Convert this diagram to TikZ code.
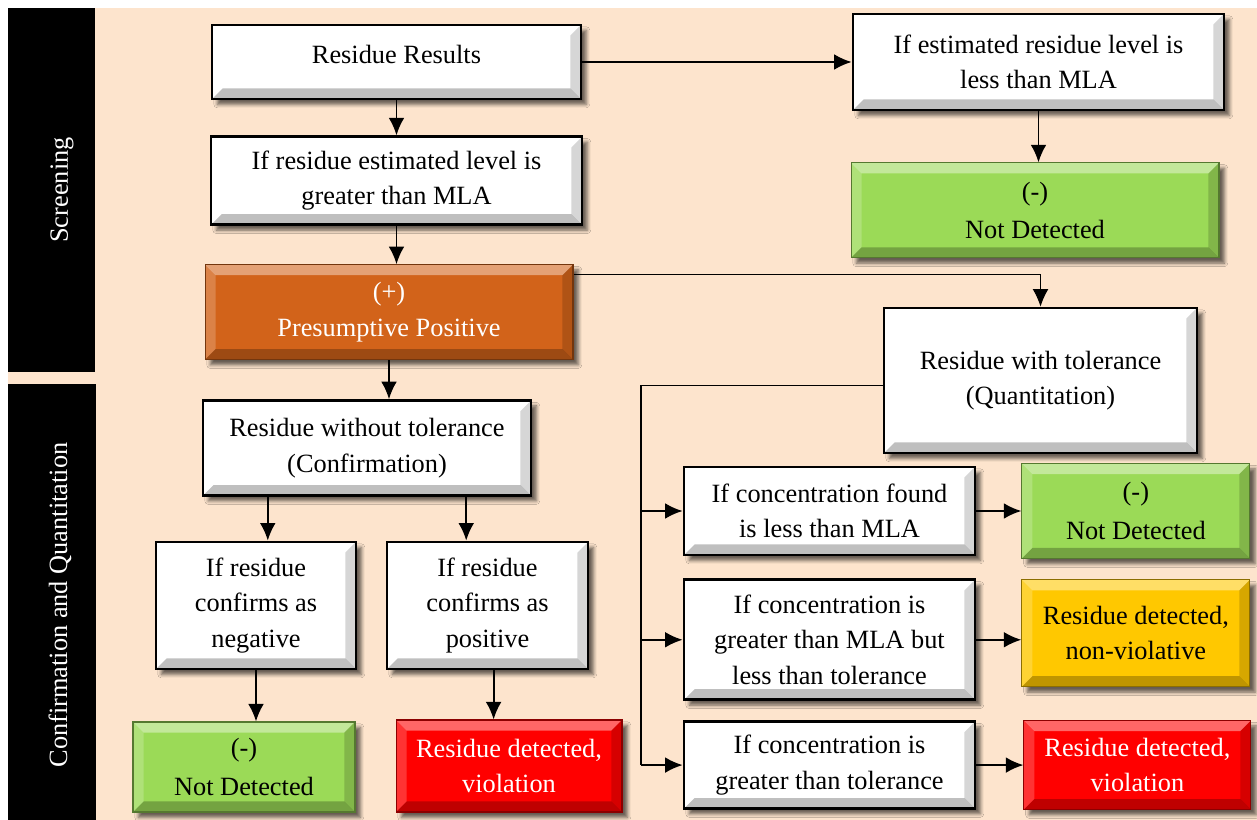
\documentclass[tikz,border=0pt]{standalone}
\usepackage{fontspec}
\setmainfont{Liberation Serif}
\usetikzlibrary{positioning, arrows.meta, shadows.blur, calc}

\definecolor{peach}{HTML}{FDE4CD}
\definecolor{leafgreen}{HTML}{9BDA57}
\definecolor{burnt}{HTML}{D2631A}
\definecolor{amber}{HTML}{FFC800}
\definecolor{alarm}{HTML}{FF0000}

\tikzset{
    bevel/.style={path picture={
        \path (path picture bounding box.north west) coordinate (bnw)
              (path picture bounding box.north east) coordinate (bne)
              (path picture bounding box.south east) coordinate (bse)
              (path picture bounding box.south west) coordinate (bsw);
        \fill[white, opacity=0.4] (bnw) -- (bne) -- ([shift={(-6pt,-6pt)}]bne) -- ([shift={(6pt,-6pt)}]bnw) -- cycle;
        \fill[white, opacity=0.2] (bnw) -- ([shift={(6pt,-6pt)}]bnw) -- ([shift={(6pt,6pt)}]bsw) -- (bsw) -- cycle;
        \fill[black, opacity=0.25] (bsw) -- ([shift={(6pt,6pt)}]bsw) -- ([shift={(-6pt,6pt)}]bse) -- (bse) -- cycle;
        \fill[black, opacity=0.16] (bse) -- ([shift={(-6pt,6pt)}]bse) -- ([shift={(-6pt,-6pt)}]bne) -- (bne) -- cycle;
    }}
}

\begin{document}
\begin{tikzpicture}[
    x=0.02cm, y=-0.02cm,
    plainbox/.style={rectangle, draw=black, line width=1.6pt, fill=white, align=center, inner sep=2pt,
        font=\fontsize{15}{20}\selectfont, bevel,
        blur shadow={shadow xshift=3pt, shadow yshift=-3pt, shadow blur radius=2pt, shadow opacity=60}},
    colorbox/.style={plainbox, line width=0.6pt},
    greenbox/.style={colorbox, fill=leafgreen, draw=leafgreen!55!black, font=\fontsize{15}{22}\selectfont},
    amberbox/.style={colorbox, fill=amber, draw=amber!55!black},
    redbox/.style={colorbox, fill=alarm, draw=alarm!55!black, text=white},
    burntbox/.style={colorbox, fill=burnt, draw=burnt!55!black, text=white},
    sidelabel/.style={rotate=90, text=white, font=\fontsize{15}{20}\selectfont},
    arrow/.style={-{Latex[length=10pt, width=9pt]}, line width=1.1pt},
    feed/.style={line width=0.6pt}
]

% Background and side bars
\useasboundingbox (0,0) rectangle (1257,820);
\fill[peach] (8,8) rectangle (1257,820);
\fill[black] (8,8) rectangle (95,372);
\fill[black] (8,384) rectangle (96,820);
\node[sidelabel] (screening) at (62,190) {Screening};
\node[sidelabel] (confquant) at (60,605) {Confirmation and Quantitation};

% Screening
\node[plainbox, minimum width=7.38cm, minimum height=1.48cm, text depth=9pt] (results) at (396.5,62) {Residue Results};
\node[plainbox, minimum width=7.42cm, minimum height=1.76cm, below=0.7cm of results] (greater) {If residue estimated level is\\greater than MLA};
\node[burntbox, minimum width=7.36cm, minimum height=1.9cm, below=0.76cm of greater, xshift=-0.15cm] (presumptive) {(+)\\Presumptive Positive};
\node[plainbox, minimum width=7.42cm, minimum height=1.92cm] (lessmla) at (1038.5,62) {If estimated residue level is\\less than MLA};
\node[greenbox, minimum width=7.36cm, minimum height=1.9cm, below=1.02cm of lessmla, xshift=-0.07cm] (nd1) {(-)\\Not Detected};

% Confirmation
\node[plainbox, minimum width=6.56cm, minimum height=1.9cm, below=0.78cm of presumptive, xshift=-0.44cm] (without) {Residue without tolerance\\(Confirmation)};
\node[plainbox, minimum width=4cm, minimum height=2.54cm] (negative) at (256,605.5) {If residue\\confirms as\\negative};
\node[plainbox, minimum width=4.02cm, minimum height=2.54cm] (positive) at (487.5,605.5) {If residue\\confirms as\\positive};
\node[greenbox, minimum width=4.44cm, minimum height=1.8cm] (nd3) at (244,767) {(-)\\Not Detected};
\node[redbox, minimum width=4.52cm, minimum height=1.84cm] (viol1) at (509,766) {Residue detected,\\violation};

% Quantitation
\node[plainbox, minimum width=6.26cm, minimum height=2.9cm] (withtol) at (1040.5,380.5) {Residue with tolerance\\(Quantitation)};
\node[plainbox, minimum width=5.82cm, minimum height=1.76cm] (found) at (829.5,511) {If concentration found\\is less than MLA};
\node[plainbox, minimum width=5.82cm, minimum height=2.4cm, below=0.44cm of found] (between) {If concentration is\\greater than MLA but\\less than tolerance};
\node[plainbox, minimum width=5.82cm, minimum height=1.74cm, below=0.38cm of between] (above) {If concentration is\\greater than tolerance};
\node[greenbox, minimum width=4.56cm, minimum height=1.9cm, right=0.9cm of found] (nd2) {(-)\\Not Detected};
\node[amberbox, minimum width=4.56cm, minimum height=2.14cm, right=0.9cm of between, yshift=0.13cm] (nonviol) {Residue detected,\\non-violative};
\node[redbox, minimum width=4.54cm, minimum height=1.78cm, right=0.94cm of above] (viol2) {Residue detected,\\violation};

% Connectors
\draw[arrow] (results) -- (lessmla);
\draw[arrow] (results) -- (greater);
\draw[arrow] (greater.south) -- (greater.south |- presumptive.north);
\draw[arrow] (lessmla.south) -- (lessmla.south |- nd1.north);
\draw[arrow] (presumptive.south) -- (presumptive.south |- without.north);
\draw[arrow, feed] ([yshift=-0.2cm]presumptive.north east) -| (withtol.north);

\coordinate (wl) at ($(without.south west)!0.2!(without.south east)$);
\coordinate (wr) at ($(without.south west)!0.8!(without.south east)$);
\draw[arrow] (wl) -- (wl |- negative.north);
\draw[arrow] (wr) -- (wr |- positive.north);
\draw[arrow] (negative.south) -- (negative.south |- nd3.north);
\coordinate (pr) at ($(positive.south west)!0.53!(positive.south east)$);
\draw[arrow] (pr) -- (pr |- viol1.north);

\coordinate (bus) at (641,385);
\draw[feed] ([yshift=-0.1cm]withtol.west) -- ([yshift=-0.1cm]withtol.west -| bus) -- (bus |- above.west);
\draw[arrow] (bus |- found.west) -- (found.west);
\draw[arrow] (bus |- between.west) -- (between.west);
\draw[arrow] (bus |- above.west) -- (above.west);
\draw[arrow] (found) -- (nd2);
\draw[arrow] (between.east) -- (between.east -| nonviol.west);
\draw[arrow] (above) -- (viol2);

\end{tikzpicture}
\end{document}
